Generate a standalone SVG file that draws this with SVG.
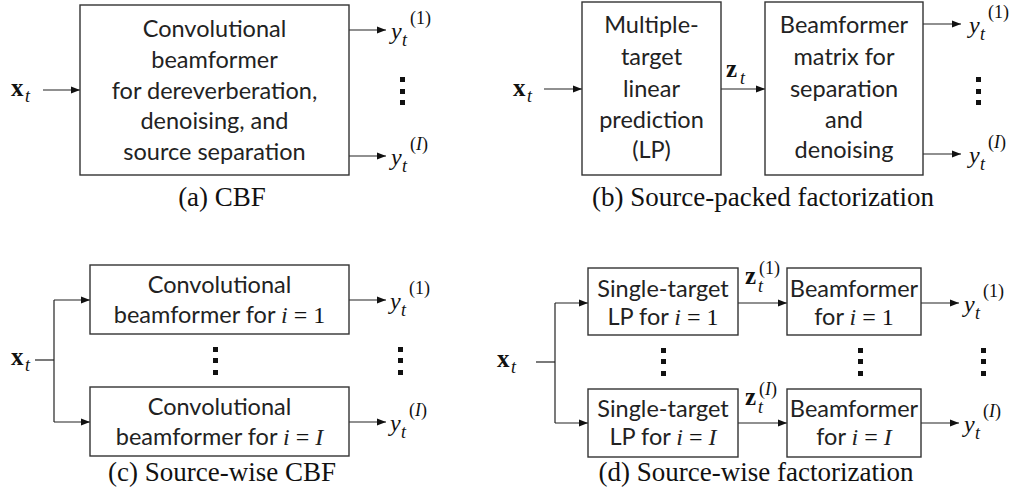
<svg xmlns="http://www.w3.org/2000/svg" width="1016" height="501" viewBox="0 0 1016 501">
<defs>
<marker id="ah" markerWidth="10" markerHeight="8" refX="9" refY="4" orient="auto" markerUnits="userSpaceOnUse">
<path d="M0,0.5 L9,4 L0,7.5 Z" fill="#111"/>
</marker>
<style>
.box{fill:#fff;stroke:#333;stroke-width:1.4}
.ln{fill:none;stroke:#222;stroke-width:1.2}
.ar{fill:none;stroke:#222;stroke-width:1.2;marker-end:url(#ah)}
.t{font-family:Lato,"Open Sans",sans-serif;font-size:23.5px;fill:#222;text-anchor:middle}
.m{font-family:"Liberation Serif",serif;fill:#111}
.mi{font-family:"Liberation Serif",serif;font-style:italic}
.y{font-size:24px}
.s{font-size:18px}
.cap{font-family:"Liberation Serif",serif;font-size:27px;fill:#111;text-anchor:middle}
.dot{fill:#111}
</style>
</defs>

<g id="connectors">
<!-- (a) -->
<line class="ar" x1="43" y1="90" x2="80" y2="90"/>
<line class="ar" x1="349" y1="30" x2="386" y2="30"/>
<line class="ar" x1="349" y1="156" x2="386" y2="156"/>
<!-- (b) -->
<line class="ar" x1="544" y1="89" x2="582" y2="89"/>
<line class="ar" x1="721" y1="89" x2="765" y2="89"/>
<line class="ar" x1="923" y1="24" x2="961" y2="24"/>
<line class="ar" x1="923" y1="154" x2="961" y2="154"/>
<!-- (c) -->
<polyline class="ln" points="35,360 54,360"/>
<polyline class="ln" points="54,300 54,422"/>
<line class="ar" x1="54" y1="300" x2="90" y2="300"/>
<line class="ar" x1="54" y1="422" x2="90" y2="422"/>
<line class="ar" x1="349" y1="300" x2="386" y2="300"/>
<line class="ar" x1="349" y1="422" x2="386" y2="422"/>
<!-- (d) -->
<polyline class="ln" points="536,362 555,362"/>
<polyline class="ln" points="555,303 555,423"/>
<line class="ar" x1="555" y1="303" x2="588" y2="303"/>
<line class="ar" x1="555" y1="423" x2="588" y2="423"/>
<line class="ar" x1="738" y1="303" x2="787" y2="303"/>
<line class="ar" x1="738" y1="423" x2="787" y2="423"/>
<line class="ar" x1="921" y1="303" x2="959" y2="303"/>
<line class="ar" x1="921" y1="423" x2="959" y2="423"/>
</g>

<!-- (a) CBF -->
<g id="a-cbf">
<rect class="box" x="80" y="5" width="269" height="170"/>
<text class="t" x="214.5" y="37">Convolutional</text>
<text class="t" x="214.5" y="68">beamformer</text>
<text class="t" x="214.5" y="99">for dereverberation,</text>
<text class="t" x="214.5" y="129">denoising, and</text>
<text class="t" x="214.5" y="160">source separation</text>
</g>
<g id="a-labels">
<text class="m" x="11" y="96" font-size="25" font-weight="bold">x</text>
<text class="m mi" x="25" y="102" font-size="18">t</text>
<text class="m mi y" x="391" y="39">y</text>
<text class="m mi s" x="402" y="46">t</text>
<text class="m s" x="410" y="24">(1)</text>
<text class="m mi y" x="391" y="165">y</text>
<text class="m mi s" x="402" y="172">t</text>
<text class="m s" x="410" y="150">(<tspan class="mi">I</tspan>)</text>
<rect class="dot" x="400" y="77" width="5" height="5"/>
<rect class="dot" x="400" y="89" width="5" height="5"/>
<rect class="dot" x="400" y="100" width="5" height="5"/>
<text class="cap" x="222" y="206">(a) CBF</text>
</g>

<!-- (b) Source-packed factorization -->
<g id="b-lp">
<rect class="box" x="582" y="2" width="139" height="173"/>
<text class="t" x="651.5" y="33">Multiple-</text>
<text class="t" x="651.5" y="65">target</text>
<text class="t" x="651.5" y="97">linear</text>
<text class="t" x="651.5" y="128">prediction</text>
<text class="t" x="651.5" y="158">(LP)</text>
</g>
<g id="b-bf">
<rect class="box" x="765" y="2" width="158" height="173"/>
<text class="t" x="844" y="33">Beamformer</text>
<text class="t" x="844" y="65">matrix for</text>
<text class="t" x="844" y="97">separation</text>
<text class="t" x="844" y="128">and</text>
<text class="t" x="844" y="158">denoising</text>
</g>
<g id="b-labels">
<text class="m" x="513" y="96" font-size="25" font-weight="bold">x</text>
<text class="m mi" x="527" y="102" font-size="18">t</text>
<text class="m" x="726" y="77" font-size="25" font-weight="bold">z</text>
<text class="m mi" x="740" y="84" font-size="18">t</text>
<text class="m mi y" x="969" y="33">y</text>
<text class="m mi s" x="980" y="40">t</text>
<text class="m s" x="988" y="18">(1)</text>
<text class="m mi y" x="969" y="163">y</text>
<text class="m mi s" x="980" y="170">t</text>
<text class="m s" x="988" y="148">(<tspan class="mi">I</tspan>)</text>
<rect class="dot" x="976" y="77" width="5" height="5"/>
<rect class="dot" x="976" y="89" width="5" height="5"/>
<rect class="dot" x="976" y="100" width="5" height="5"/>
<text class="cap" x="763" y="206">(b) Source-packed factorization</text>
</g>

<!-- (c) Source-wise CBF -->
<g id="c-cbf1">
<rect class="box" x="90" y="265" width="259" height="69"/>
<text class="t" x="219.5" y="293">Convolutional</text>
<text class="t" x="219.5" y="323">beamformer for <tspan class="mi" font-size="24">i</tspan><tspan class="m" font-size="24"> = 1</tspan></text>
</g>
<g id="c-cbfI">
<rect class="box" x="90" y="387" width="259" height="69"/>
<text class="t" x="219.5" y="415">Convolutional</text>
<text class="t" x="219.5" y="445">beamformer for <tspan class="mi" font-size="24">i</tspan><tspan class="m" font-size="24"> = </tspan><tspan class="mi" font-size="24">I</tspan></text>
</g>
<g id="c-labels">
<text class="m" x="11" y="365" font-size="25" font-weight="bold">x</text>
<text class="m mi" x="25" y="371" font-size="18">t</text>
<text class="m mi y" x="390" y="309">y</text>
<text class="m mi s" x="401" y="316">t</text>
<text class="m s" x="409" y="294">(1)</text>
<text class="m mi y" x="390" y="431">y</text>
<text class="m mi s" x="401" y="438">t</text>
<text class="m s" x="409" y="416">(<tspan class="mi">I</tspan>)</text>
<rect class="dot" x="213" y="347" width="5" height="5"/>
<rect class="dot" x="213" y="358" width="5" height="5"/>
<rect class="dot" x="213" y="370" width="5" height="5"/>
<rect class="dot" x="398" y="347" width="5" height="5"/>
<rect class="dot" x="398" y="358" width="5" height="5"/>
<rect class="dot" x="398" y="370" width="5" height="5"/>
<text class="cap" x="222" y="481">(c) Source-wise CBF</text>
</g>

<!-- (d) Source-wise factorization -->
<g id="d-lp1">
<rect class="box" x="588" y="268" width="150" height="67"/>
<text class="t" x="663" y="297">Single-target</text>
<text class="t" x="663" y="325">LP for <tspan class="mi" font-size="24">i</tspan><tspan class="m" font-size="24"> = 1</tspan></text>
</g>
<g id="d-bf1">
<rect class="box" x="787" y="268" width="134" height="67"/>
<text class="t" x="854" y="297">Beamformer</text>
<text class="t" x="854" y="325">for <tspan class="mi" font-size="24">i</tspan><tspan class="m" font-size="24"> = 1</tspan></text>
</g>
<g id="d-lpI">
<rect class="box" x="588" y="389" width="150" height="68"/>
<text class="t" x="663" y="417">Single-target</text>
<text class="t" x="663" y="445">LP for <tspan class="mi" font-size="24">i</tspan><tspan class="m" font-size="24"> = </tspan><tspan class="mi" font-size="24">I</tspan></text>
</g>
<g id="d-bfI">
<rect class="box" x="787" y="389" width="134" height="68"/>
<text class="t" x="854" y="417">Beamformer</text>
<text class="t" x="854" y="445">for <tspan class="mi" font-size="24">i</tspan><tspan class="m" font-size="24"> = </tspan><tspan class="mi" font-size="24">I</tspan></text>
</g>
<g id="d-labels">
<text class="m" x="497" y="367" font-size="25" font-weight="bold">x</text>
<text class="m mi" x="511" y="373" font-size="18">t</text>
<text class="m" x="745" y="284" font-size="25" font-weight="bold">z</text>
<text class="m mi s" x="758" y="292">t</text>
<text class="m s" x="759" y="274">(1)</text>
<text class="m" x="745" y="405" font-size="25" font-weight="bold">z</text>
<text class="m mi s" x="758" y="413">t</text>
<text class="m s" x="759" y="395">(<tspan class="mi">I</tspan>)</text>
<text class="m mi y" x="964" y="312">y</text>
<text class="m mi s" x="975" y="319">t</text>
<text class="m s" x="983" y="297">(1)</text>
<text class="m mi y" x="964" y="432">y</text>
<text class="m mi s" x="975" y="439">t</text>
<text class="m s" x="983" y="417">(<tspan class="mi">I</tspan>)</text>
<rect class="dot" x="661" y="348" width="5" height="5"/>
<rect class="dot" x="661" y="359" width="5" height="5"/>
<rect class="dot" x="661" y="371" width="5" height="5"/>
<rect class="dot" x="858" y="348" width="5" height="5"/>
<rect class="dot" x="858" y="359" width="5" height="5"/>
<rect class="dot" x="858" y="371" width="5" height="5"/>
<rect class="dot" x="981" y="348" width="5" height="5"/>
<rect class="dot" x="981" y="359" width="5" height="5"/>
<rect class="dot" x="981" y="371" width="5" height="5"/>
<text class="cap" x="756" y="481">(d) Source-wise factorization</text>
</g>
</svg>
